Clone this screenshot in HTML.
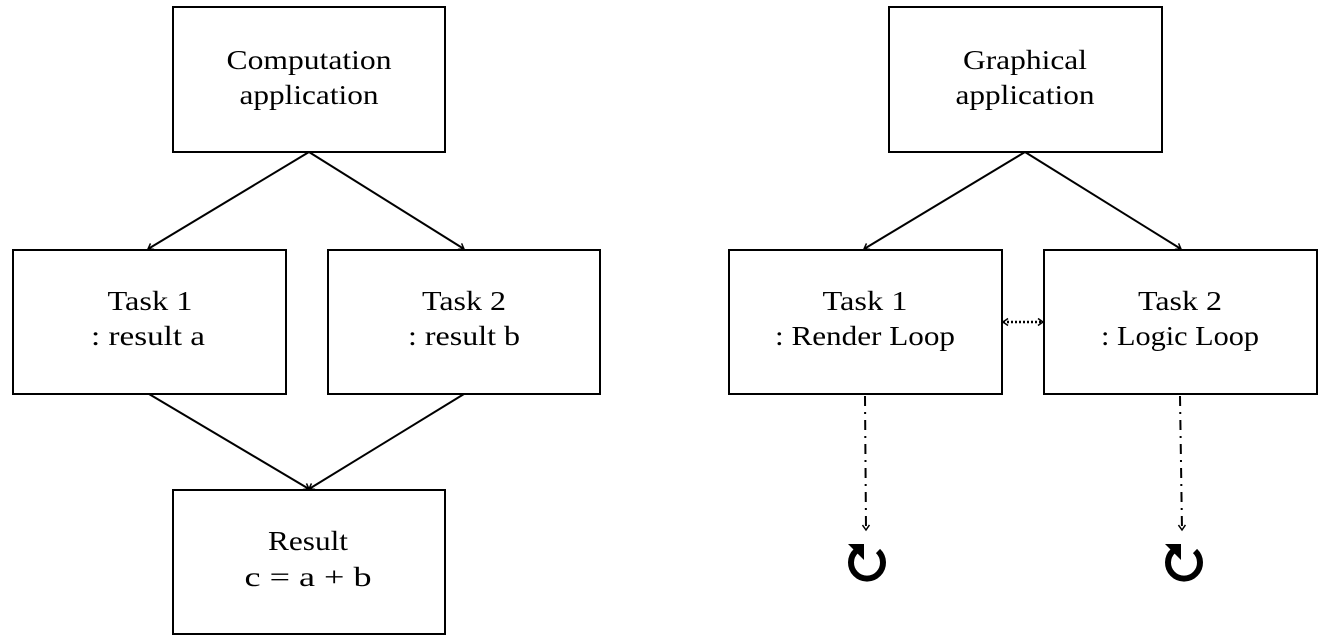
<!DOCTYPE html>
<html><head><meta charset="utf-8"><style>
html,body{margin:0;padding:0;background:#fff}
svg{display:block}
text{font-family:"Liberation Serif",serif;font-size:27px;fill:#000;text-anchor:middle}
</style></head><body>
<svg width="1325" height="641" viewBox="0 0 1325 641">
<defs>
<marker id="a" markerWidth="10" markerHeight="10" refX="7" refY="5" orient="auto" markerUnits="userSpaceOnUse">
<path d="M2,1.5 L7,5 L2,8.5" fill="none" stroke="#000" stroke-width="1.5"/>
</marker>
<marker id="as" markerWidth="10" markerHeight="10" refX="7" refY="5" orient="auto-start-reverse" markerUnits="userSpaceOnUse">
<path d="M2,1.5 L7,5 L2,8.5" fill="none" stroke="#000" stroke-width="1.5"/>
</marker>
</defs>
<g fill="none" stroke="#000" stroke-width="2">
<rect x="173" y="7" width="272" height="145"/>
<rect x="13" y="250" width="273" height="144"/>
<rect x="328" y="250" width="272" height="144"/>
<rect x="173" y="490" width="272" height="144"/>
<rect x="889" y="7" width="273" height="145"/>
<rect x="729" y="250" width="273" height="144"/>
<rect x="1044" y="250" width="273" height="144"/>
</g>
<g stroke="#000" stroke-width="2" fill="none">
<line x1="309" y1="152" x2="148" y2="249" marker-end="url(#a)"/>
<line x1="309" y1="152" x2="464" y2="249" marker-end="url(#a)"/>
<line x1="149" y1="394" x2="309" y2="489" marker-end="url(#a)"/>
<line x1="464" y1="394" x2="309" y2="489" marker-end="url(#a)"/>
<line x1="1025" y1="152" x2="864" y2="249" marker-end="url(#a)"/>
<line x1="1025" y1="152" x2="1181" y2="249" marker-end="url(#a)"/>
<line x1="1003" y1="322" x2="1043" y2="322" stroke-width="2.5" stroke-dasharray="2,2" marker-start="url(#as)" marker-end="url(#as)"/>
<line x1="865" y1="396" x2="866" y2="530" stroke-dasharray="10,6,2,6" marker-end="url(#a)"/>
<line x1="1180" y1="396" x2="1182" y2="530" stroke-dasharray="10,6,2,6" marker-end="url(#a)"/>
</g>
<g stroke="#000" stroke-width="6" fill="none">
<path d="M856,551 A16,16 0 1 0 878,551"/>
<path d="M1173,551 A16,16 0 1 0 1195,551"/>
</g>
<g fill="#000">
<path d="M848,544 L864,544 L864,560 Z"/>
<path d="M1165,544 L1181,544 L1181,560 Z"/>
</g>
<text x="309" y="69" textLength="165" lengthAdjust="spacingAndGlyphs">Computation</text><text x="309" y="104" textLength="139" lengthAdjust="spacingAndGlyphs">application</text>
<text x="150" y="310" textLength="85" lengthAdjust="spacingAndGlyphs">Task 1</text><text x="148" y="345" textLength="114" lengthAdjust="spacingAndGlyphs">: result a</text>
<text x="464" y="310" textLength="84" lengthAdjust="spacingAndGlyphs">Task 2</text><text x="464" y="345" textLength="112" lengthAdjust="spacingAndGlyphs">: result b</text>
<text x="308" y="550" textLength="80" lengthAdjust="spacingAndGlyphs">Result</text><text x="308" y="586" textLength="127" lengthAdjust="spacingAndGlyphs">c = a + b</text>
<text x="1025" y="69" textLength="124" lengthAdjust="spacingAndGlyphs">Graphical</text><text x="1025" y="104" textLength="139" lengthAdjust="spacingAndGlyphs">application</text>
<text x="865" y="310" textLength="85" lengthAdjust="spacingAndGlyphs">Task 1</text><text x="865" y="345" textLength="180" lengthAdjust="spacingAndGlyphs">: Render Loop</text>
<text x="1180" y="310" textLength="84" lengthAdjust="spacingAndGlyphs">Task 2</text><text x="1180" y="345" textLength="158" lengthAdjust="spacingAndGlyphs">: Logic Loop</text>
</svg>
</body></html>
